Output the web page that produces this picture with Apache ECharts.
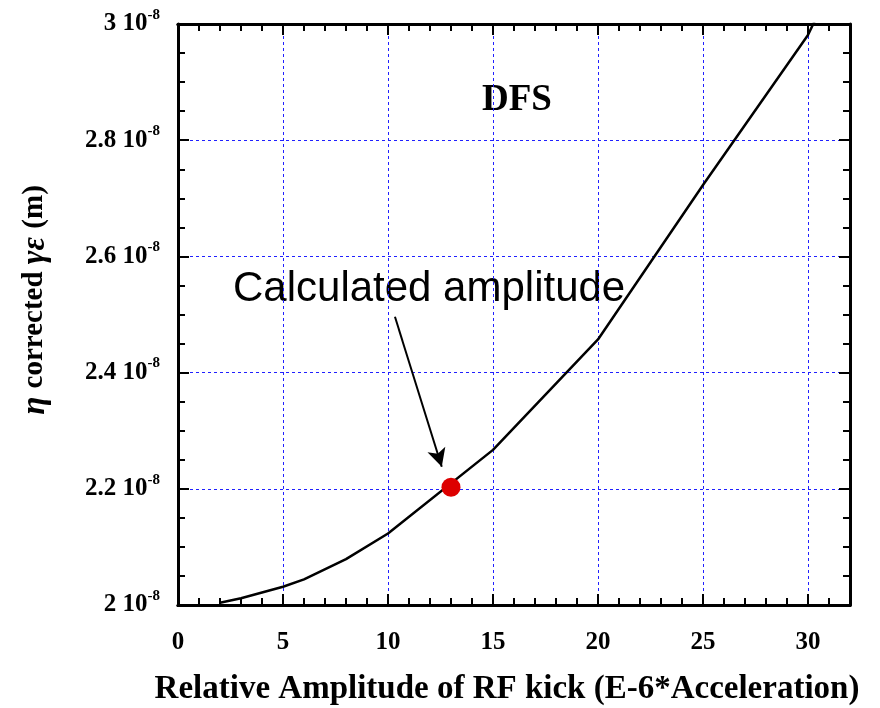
<!DOCTYPE html>
<html>
<head>
<meta charset="utf-8">
<script src="https://cdn.jsdelivr.net/npm/echarts@6/dist/echarts.min.js"></script>
<style>
  html, body { margin: 0; padding: 0; background: #fff; }
  #chart { width: 880px; height: 708px; }
</style>
</head>
<body>
<div id="chart"></div>
<script>
  // kick amplitude (E-6*Acceleration) and emittance in units of 1e-8 m
  const kickX = [2, 3, 5, 6, 8, 10, 15, 20, 25, 30, 31]
  const emitY = [2.004, 2.0115, 2.0315, 2.044, 2.079, 2.123, 2.267, 2.457, 2.723, 2.981, 3.057]
  const calcPoint = [13, 2.2026]
  const arrowFrom = [10.33, 2.496]
  const arrowTo = [12.56, 2.238]

  const serif = 'Liberation Serif, Times New Roman, serif'
  const sans = 'Liberation Sans, Arial, sans-serif'
  const gridBlue = '#2020ff'

  const chart = echarts.init(document.getElementById('chart'))

  function yLabel(v) {
    const r = Math.round(v * 10) / 10
    const txt = (r === 2 || r === 3) ? String(r) : r.toFixed(1)
    return '{m|' + txt + ' 10}{s|-8}'
  }

  const xBase = {
    type: 'value', min: 0, max: 32, gridIndex: 0,
    axisLine: { show: true, onZero: false, lineStyle: { color: '#000', width: 3 } },
    splitLine: { show: false },
    axisLabel: { show: false }
  }

  chart.setOption({
    backgroundColor: '#fff',
    animation: false,
    grid: { left: 178, right: 30, top: 24, bottom: 103, outerBoundsMode: 'none', containLabel: false },
    xAxis: [
      Object.assign({}, xBase, {
        position: 'bottom', interval: 5,
        axisTick: { inside: true, length: 11, lineStyle: { color: '#000', width: 2 } },
        splitLine: { show: true, lineStyle: { color: gridBlue, width: 1, type: [3, 3] } },
        axisLabel: {
          show: true, margin: 25, showMaxLabel: false,
          fontFamily: serif, fontWeight: 'bold', fontSize: 25, color: '#000'
        },
        name: 'Relative Amplitude of RF kick (E-6*Acceleration)',
        nameLocation: 'middle', nameGap: 68,
        nameTextStyle: {
          fontFamily: serif, fontWeight: 'bold', fontSize: 33, color: '#000',
          padding: [0, 14, 0, 0]
        }
      }),
      Object.assign({}, xBase, {
        position: 'bottom', interval: 1,
        axisTick: { inside: true, length: 7, lineStyle: { color: '#000', width: 2 } }
      }),
      Object.assign({}, xBase, {
        position: 'top', interval: 5,
        axisTick: { inside: true, length: 11, lineStyle: { color: '#000', width: 2 } }
      }),
      Object.assign({}, xBase, {
        position: 'top', interval: 1,
        axisTick: { inside: true, length: 7, lineStyle: { color: '#000', width: 2 } }
      })
    ],
    yAxis: [
      {
        type: 'value', min: 2, max: 3, interval: 0.2, position: 'left',
        axisLine: { show: true, onZero: false, lineStyle: { color: '#000', width: 3 } },
        axisTick: { inside: true, length: 11, lineStyle: { color: '#000', width: 2 } },
        minorTick: { show: true, splitNumber: 4, length: 7, lineStyle: { color: '#000', width: 2 } },
        splitLine: { show: true, lineStyle: { color: gridBlue, width: 1, type: [3, 3] } },
        axisLabel: {
          margin: 18, formatter: yLabel,
          rich: {
            m: { fontFamily: serif, fontWeight: 'bold', fontSize: 25, color: '#000' },
            s: { fontFamily: serif, fontWeight: 'bold', fontSize: 15, color: '#000', padding: [0, 0, 18, 0] }
          }
        }
      },
      {
        type: 'value', min: 2, max: 3, interval: 0.2, position: 'right',
        axisLine: { show: true, onZero: false, lineStyle: { color: '#000', width: 3 } },
        axisTick: { inside: true, length: 11, lineStyle: { color: '#000', width: 2 } },
        minorTick: { show: true, splitNumber: 4, length: 7, lineStyle: { color: '#000', width: 2 } },
        splitLine: { show: false },
        axisLabel: { show: false }
      }
    ],
    series: [
      {
        type: 'line',
        data: kickX.map((x, i) => [x, emitY[i]]),
        showSymbol: false,
        clip: true,
        lineStyle: { color: '#000', width: 2.5 },
        markLine: {
          silent: true,
          symbol: ['none', 'arrow'],
          symbolSize: [14, 18],
          label: { show: false },
          lineStyle: { color: '#000', width: 2, type: 'solid' },
          data: [[{ coord: arrowFrom }, { coord: arrowTo }]]
        },
        z: 3
      },
      {
        type: 'scatter',
        data: [calcPoint],
        symbolSize: 19,
        itemStyle: { color: '#dd0000', opacity: 1 },
        z: 4
      }
    ],
    graphic: [
      {
        type: 'text', left: 482, top: 82,
        style: { text: 'DFS', font: 'bold 37px ' + serif, fill: '#000' }
      },
      {
        type: 'text', left: 233, top: 268,
        style: { text: 'Calculated amplitude', font: '42px ' + sans, fill: '#000' }
      },
      {
        type: 'text', x: 35, y: 300, rotation: Math.PI / 2,
        style: {
          text: '{i|η }{b|corrected }{i|γε }{b|(m)}',
          align: 'center', verticalAlign: 'middle',
          rich: {
            i: { fontFamily: serif, fontWeight: 'bold', fontStyle: 'italic', fontSize: 33, fill: '#000' },
            b: { fontFamily: serif, fontWeight: 'bold', fontSize: 29, fill: '#000' }
          }
        }
      }
    ]
  })
</script>
</body>
</html>
